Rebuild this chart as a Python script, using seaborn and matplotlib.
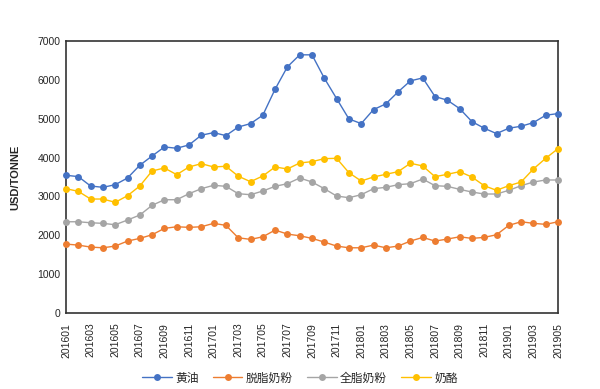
import matplotlib
matplotlib.use("Agg")
import matplotlib.pyplot as plt
import seaborn as sns
import pandas as pd

months = ["201601","201602","201603","201604","201605","201606","201607","201608","201609","201610","201611","201612",
          "201701","201702","201703","201704","201705","201706","201707","201708","201709","201710","201711","201712",
          "201801","201802","201803","201804","201805","201806","201807","201808","201809","201810","201811","201812",
          "201901","201902","201903","201904","201905"]

butter = [3544, 3510, 3268, 3234, 3302, 3474, 3802, 4041, 4273, 4240, 4325, 4575,
          4642, 4565, 4785, 4874, 5090, 5760, 6335, 6644, 6644, 6044, 5518, 4995,
          4874, 5235, 5381, 5691, 5974, 6050, 5570, 5477, 5261, 4926, 4755, 4617,
          4755, 4806, 4900, 5090, 5132]
smp = [1773, 1747, 1696, 1678, 1722, 1851, 1920, 2013, 2178, 2219, 2204, 2219,
       2307, 2255, 1936, 1894, 1961, 2134, 2031, 1987, 1920, 1825, 1722, 1678,
       1678, 1747, 1678, 1722, 1851, 1945, 1851, 1902, 1961, 1920, 1946, 2013,
       2255, 2348, 2307, 2281, 2348]
wmp = [2348, 2348, 2322, 2307, 2271, 2392, 2521, 2771, 2915, 2915, 3070, 3199,
       3286, 3260, 3070, 3044, 3139, 3260, 3328, 3474, 3371, 3199, 3010, 2967,
       3044, 3199, 3234, 3302, 3328, 3448, 3276, 3260, 3182, 3113, 3062, 3062,
       3157, 3276, 3371, 3423, 3423]
cheese = [3199, 3131, 2933, 2933, 2848, 3018, 3268, 3655, 3732, 3560, 3758, 3843,
          3758, 3776, 3522, 3379, 3526, 3758, 3706, 3861, 3895, 3972, 3981, 3611,
          3397, 3500, 3569, 3637, 3853, 3784, 3508, 3569, 3637, 3500, 3276, 3157,
          3276, 3371, 3706, 3981, 4229]

series_names = ["黄油", "脱脂奶粉", "全脂奶粉", "奶酪"]
colors = ["#4472C4", "#ED7D31", "#A5A5A5", "#FFC000"]
y_ticks = [0, 1000, 2000, 3000, 4000, 5000, 6000, 7000]

sns.set_style("white")
plt.rcParams['font.family'] = ['Noto Sans CJK SC', 'DejaVu Sans']

frames = []
for name, vals in zip(series_names, [butter, smp, wmp, cheese]):
    frames.append(pd.DataFrame({"idx": range(len(months)), "month": months, "value": vals, "series": name}))
df = pd.concat(frames, ignore_index=True)

fig = plt.figure(figsize=(6, 3.89), dpi=100)
ax = fig.add_axes([0.11, 0.1954, 0.82, 0.6992])

sns.lineplot(data=df, x="idx", y="value", hue="series", hue_order=series_names,
             palette=colors, marker="o", markersize=5, markeredgewidth=0,
             linewidth=1, ax=ax, legend=True, clip_on=False, zorder=3)

ax.set_xlim(0, len(months) - 1)
ax.set_ylim(0, 7000)
ax.set_yticks(y_ticks)
ax.set_yticklabels([str(v) for v in y_ticks], fontsize=7.5, family=['Liberation Sans', 'DejaVu Sans'])
ax.set_xticks(range(len(months)))
ax.set_xticklabels([m if i % 2 == 0 else "" for i, m in enumerate(months)], rotation=90,
                   fontsize=7.5, family=['Liberation Sans', 'DejaVu Sans'])
ax.tick_params(axis="both", direction="in", length=3, width=0.8, color="#333333", pad=4)
ax.tick_params(axis="x", pad=7)
ax.set_xlabel("")
ax.set_ylabel("USD/TONNE", fontsize=8, fontweight="bold", family=['Liberation Sans', 'DejaVu Sans'], labelpad=12)
for s in ax.spines.values():
    s.set_visible(True)
    s.set_color("#333333")
    s.set_linewidth(1.2)
    s.set_zorder(2)

handles, labels = ax.get_legend_handles_labels()
ax.legend_.remove()
fig.legend(handles, labels, loc="center", bbox_to_anchor=(0.5, 0.028), ncol=4, frameon=False,
           fontsize=8.5, handlelength=2.5, columnspacing=1.2, handletextpad=0.3)

fig.savefig("out.png", dpi=100)
